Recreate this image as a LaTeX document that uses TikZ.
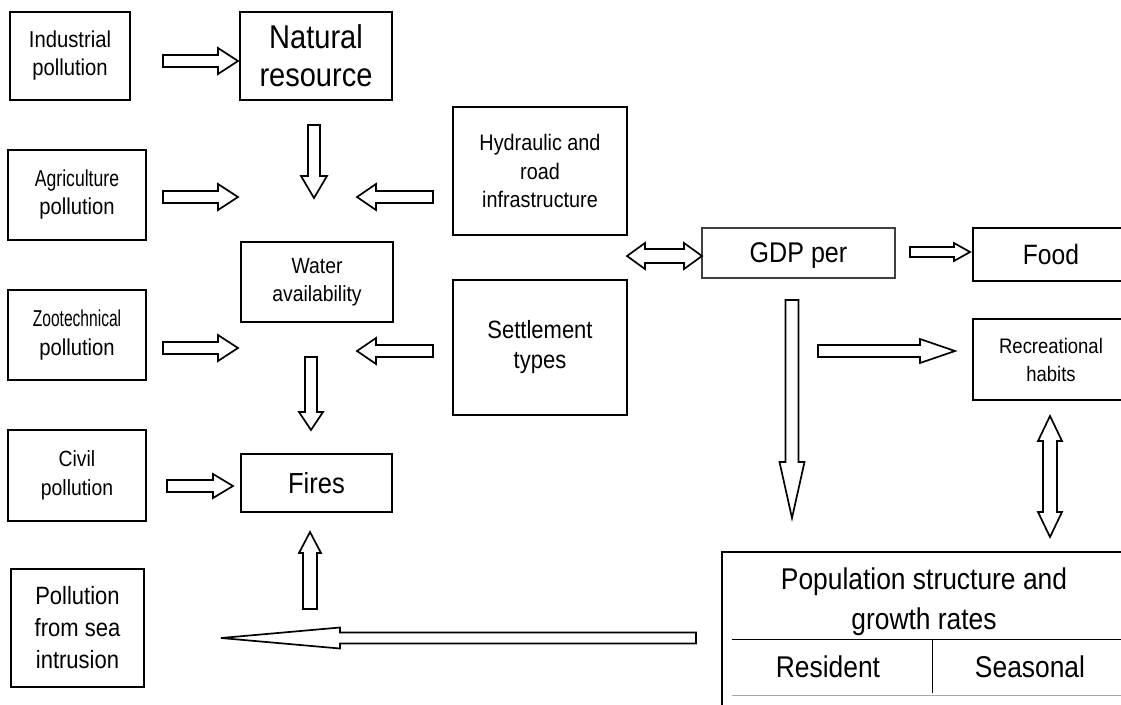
\documentclass[tikz,border=0pt]{standalone}
\usepackage{fontspec}
\setmainfont[FakeStretch=0.88]{Liberation Sans}
\usepackage{graphicx}
\usetikzlibrary{calc}

\tikzset{
  box/.style={draw, line width=2pt, outer sep=0pt, inner sep=0pt, align=center},
  blockline/.style={draw, line width=1.7pt, fill=white, line join=miter},
}

\newcommand{\squeeze}[2]{\scalebox{#1}[1]{#2}}
\newcommand{\fs}[2]{\fontsize{#1}{#2}\selectfont}

% hollow block arrow: from, to, half shaft, half head, head length
\newcommand{\blockarrow}[5]{%
  \coordinate (hb) at ($(#2)!#5!(#1)$);
  \draw[blockline] ($(#1)!#3!90:(#2)$) -- ($(hb)!#3!90:(#2)$) -- ($(hb)!#4!90:(#2)$) -- (#2)
    -- ($(hb)!#4!-90:(#2)$) -- ($(hb)!#3!-90:(#2)$) -- ($(#1)!#3!-90:(#2)$) -- cycle;
}
% same with a head at both ends
\newcommand{\dblockarrow}[5]{%
  \coordinate (hba) at ($(#1)!#5!(#2)$);
  \coordinate (hbb) at ($(#2)!#5!(#1)$);
  \draw[blockline] (#1) -- ($(hba)!#4!90:(#2)$) -- ($(hba)!#3!90:(#2)$) -- ($(hbb)!#3!90:(#2)$)
    -- ($(hbb)!#4!90:(#2)$) -- (#2) -- ($(hbb)!#4!-90:(#2)$) -- ($(hbb)!#3!-90:(#2)$)
    -- ($(hba)!#3!-90:(#2)$) -- ($(hba)!#4!-90:(#2)$) -- cycle;
}

\begin{document}
\begin{tikzpicture}[x=1pt, y=-1pt]
\useasboundingbox (0,0) rectangle (1121,704);

% sources of pollution
\node[box, minimum width=120, minimum height=88, font=\fs{23}{28}] (ind) at (70,56) {Industrial\\pollution};
\node[box, minimum width=138, minimum height=90, font=\fs{23}{28}] (agr) at (77,195) {\squeeze{0.87}{Agriculture}\\pollution};
\node[box, minimum width=138, minimum height=90, font=\fs{23}{29}] (zoo) at (77,335) {\squeeze{0.77}{Zootechnical}\\pollution};
\node[box, minimum width=138, minimum height=91, font=\fs{22}{29}] (civ) at (77,475.5) {Civil\\pollution};
\node[box, minimum width=133, minimum height=118, font=\fs{25}{32}] (sea) at (77.5,628) {Pollution\\from sea\\intrusion};

% middle column
\node[box, minimum width=152, minimum height=88, font=\fs{33}{38}] (nat) at (316,56) {Natural\\resource};
\node[box, minimum width=152, minimum height=80, font=\fs{22}{28}] (wat) at (317,282) {Water\\availability};
\node[box, minimum width=151, minimum height=58, font=\fs{29}{34}] (fir) at (316.5,483) {Fires};
\node[box, minimum width=174, minimum height=128, font=\fs{22.5}{28.5}] (hyd) at (540,171) {Hydraulic and\\road\\infrastructure};
\node[box, minimum width=174, minimum height=135, font=\fs{25}{30}] (set) at (540,347.5) {Settlement\\types};

% right side
\node[box, draw=black!75, line width=1.2pt, minimum width=193, minimum height=50, text depth=0pt, font=\fs{28.5}{34}] (gdp) at (798.5,253) {GDP per};
\node[box, minimum width=156, minimum height=53, font=\fs{28}{34}] (food) at (1051,254.5) {Food};
\node[box, minimum width=156, minimum height=81, font=\fs{21}{28}] (rec) at (1051,359.5) {Recreational\\habits};

% population table (cut by the page edge)
\coordinate (poptl) at (722,552);
\draw[line width=2pt] ($(poptl)+(0,170)$) -- (poptl) -- ($(poptl)+(420,0)$);
\node[font=\fs{30}{40}, align=center] (pop) at (924,602) {Population structure and\\growth rates};
\draw[line width=1pt] (732,639) -- (1130,639);
\draw[line width=1pt] (932,639) -- (932,693);
\draw[line width=1pt, black!35] (732,695) -- (1130,695);
\node[font=\fs{30}{36}] (res) at (828,667) {Resident};
\node[font=\fs{30}{36}] (seas) at (1030,667) {Seasonal};

% arrows
\coordinate (a1s) at ($(ind.east)+(33,5)$);   \coordinate (a1e) at ($(nat.west)+(-2,5)$);
\coordinate (a2s) at ($(nat.south)+(-2,25)$); \coordinate (a2e) at ($(nat.south)+(-2,98)$);
\coordinate (a3s) at ($(agr.east)+(17,2)$);   \coordinate (a3e) at ($(agr.east)+(92,2)$);
\coordinate (a4s) at ($(hyd.west)+(-20,26)$); \coordinate (a4e) at ($(hyd.west)+(-96,26)$);
\coordinate (a5s) at ($(zoo.east)+(17,13)$);  \coordinate (a5e) at ($(zoo.east)+(92,13)$);
\coordinate (a6s) at ($(set.west)+(-20,3.5)$); \coordinate (a6e) at ($(set.west)+(-96,3.5)$);
\coordinate (a7s) at ($(wat.south)+(-6,35)$); \coordinate (a7e) at ($(fir.north)+(-5.5,-24)$);
\coordinate (a8s) at ($(civ.east)+(21,10.5)$); \coordinate (a8e) at ($(fir.west)+(-8,3)$);
\coordinate (a9s) at ($(fir.south)+(-6.5,97)$); \coordinate (a9e) at ($(fir.south)+(-6.5,20)$);
\coordinate (a10s) at ($(poptl)+(-26,86)$);   \coordinate (a10e) at ($(sea.east)+(77,10)$);
\coordinate (a11s) at ($(hyd.east)+(0,85)$);  \coordinate (a11e) at ($(gdp.west)+(0,3)$);
\coordinate (a12s) at ($(gdp.east)+(15,-1)$); \coordinate (a12e) at ($(food.west)+(-3,-2.5)$);
\coordinate (a13s) at ($(gdp.south)+(19.5,73)$); \coordinate (a13e) at ($(rec.west)+(-18,-8.5)$);
\coordinate (a14s) at ($(gdp.south)+(-6.5,22)$); \coordinate (a14e) at ($(gdp.south)+(-6.5,240)$);
\coordinate (a15s) at ($(rec.south)+(-1,16)$); \coordinate (a15e) at ($(poptl)+(328,-15)$);

\blockarrow{a1s}{a1e}{6pt}{13pt}{20pt}
\blockarrow{a2s}{a2e}{6pt}{13pt}{22pt}
\blockarrow{a3s}{a3e}{6pt}{13pt}{20pt}
\blockarrow{a4s}{a4e}{6pt}{13pt}{19pt}
\blockarrow{a5s}{a5e}{6pt}{13pt}{20pt}
\blockarrow{a6s}{a6e}{6pt}{13pt}{19pt}
\blockarrow{a7s}{a7e}{6pt}{12pt}{18pt}
\blockarrow{a8s}{a8e}{6pt}{12pt}{20pt}
\blockarrow{a9s}{a9e}{7pt}{11pt}{21pt}
\blockarrow{a10s}{a10e}{5.5pt}{10.5pt}{119pt}
\dblockarrow{a11s}{a11e}{7pt}{13pt}{18pt}
\blockarrow{a12s}{a12e}{5pt}{9pt}{16pt}
\blockarrow{a13s}{a13e}{6pt}{12pt}{35pt}
\blockarrow{a14s}{a14e}{6.5pt}{12.5pt}{56pt}
\dblockarrow{a15s}{a15e}{7pt}{12pt}{25pt}
\end{tikzpicture}
\end{document}
